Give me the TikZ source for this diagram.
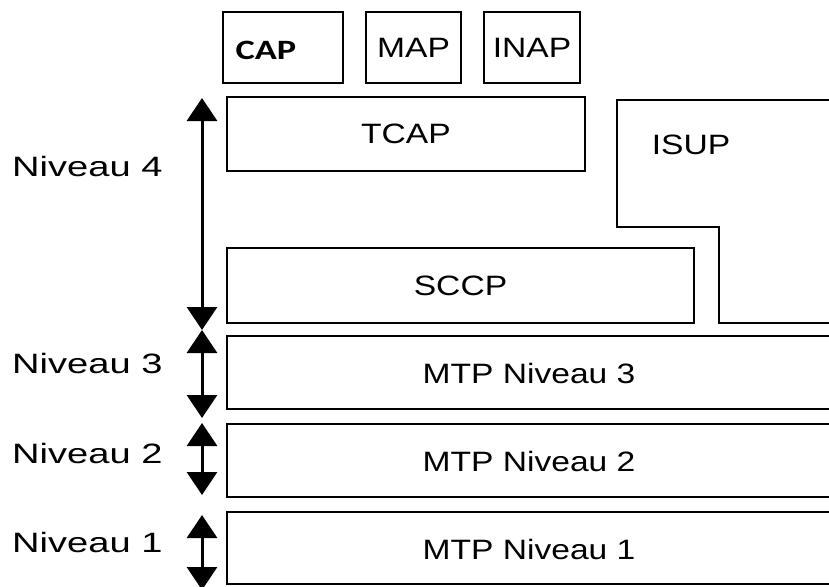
\documentclass[tikz,border=0pt]{standalone}
\usepackage{fontspec}
\setmainfont{Liberation Sans}
\newfontfamily\capfont{Carlito}
\usepackage{graphicx}
\usetikzlibrary{arrows.meta}

\newcommand{\widetext}[2][1.2]{\scalebox{#1}[1]{#2}}

\tikzset{
  layer/.style={draw, line width=2pt, inner sep=0pt, rectangle, font=\fontsize{28}{30}\selectfont},
  txt/.style={inner sep=0pt, font=\fontsize{28}{30}\selectfont},
  lvl/.style={line width=3pt, {Triangle[width=30pt,length=23pt]}-{Triangle[width=30pt,length=23pt]}},
}

\begin{document}
\begin{tikzpicture}[x=1pt, y=-1pt]
  \clip (0,0) rectangle (829,586);
  \fill[white] (0,0) rectangle (829,586);

  % applications
  \node[layer, minimum width=120, minimum height=71] (cap) at (283,47.5) {};
  \node[txt, font=\fontsize{28}{30}\capfont\bfseries] (captxt) at (266,50) {\widetext[1.3]{CAP}};
  \node[layer, minimum width=95, minimum height=71] (map) at (413.5,47.5) {\widetext{MAP}};
  \node[layer, minimum width=96, minimum height=71] (inap) at (532,47.5) {\widetext{INAP}};
  \node[layer, minimum width=358, minimum height=74] (tcap) at (406,134) {\widetext{TCAP}};
  \node[layer, minimum width=467, minimum height=75] (sccp) at (460.5,285.5) {\widetext{SCCP}};

  % ISUP
  \draw[line width=2pt] (840,100) -- (617,100) -- (617,227) -- (719,227) -- (719,323) -- (840,323);
  \node[txt] (isup) at (691,145) {\widetext{ISUP}};

  % MTP
  \node[layer, minimum width=643, minimum height=73] (mtp3) at (548.5,372.5) {};
  \node[layer, minimum width=643, minimum height=73] (mtp2) at (548.5,460.5) {};
  \node[layer, minimum width=643, minimum height=72] (mtp1) at (548.5,548) {};
  \node[txt] (mtp3txt) at (529,373) {\widetext{MTP Niveau 3}};
  \node[txt] (mtp2txt) at (529,461) {\widetext{MTP Niveau 2}};
  \node[txt] (mtp1txt) at (529,549) {\widetext{MTP Niveau 1}};

  % niveaux
  \node[txt, anchor=west] (n4) at (12,166) {\widetext[1.36]{Niveau 4}};
  \node[txt, anchor=west] (n3) at (12,363) {\widetext[1.36]{Niveau 3}};
  \node[txt, anchor=west] (n2) at (12,453) {\widetext[1.36]{Niveau 2}};
  \node[txt, anchor=west] (n1) at (12,542) {\widetext[1.36]{Niveau 1}};

  \coordinate (n4top) at (202,98);
  \coordinate (n4bot) at (202,330);
  \coordinate (n3top) at (202,330);
  \coordinate (n3bot) at (202,418);
  \coordinate (n2top) at (202,423);
  \coordinate (n2bot) at (202,495);
  \coordinate (n1top) at (202,515);
  \coordinate (n1bot) at (202,590);
  \draw[lvl] (n4top) -- (n4bot);
  \draw[lvl] (n3top) -- (n3bot);
  \draw[lvl] (n2top) -- (n2bot);
  \draw[lvl] (n1top) -- (n1bot);
\end{tikzpicture}
\end{document}
